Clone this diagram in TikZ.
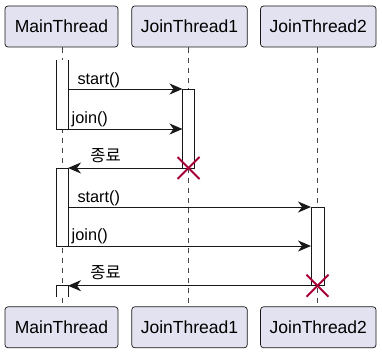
\documentclass[tikz,border=0pt]{standalone}
\usepackage{fontspec}
\setmainfont{Liberation Sans}
\newfontfamily\kr{Noto Sans CJK KR}
\usetikzlibrary{arrows.meta}
\definecolor{boxfill}{HTML}{E2E2F0}
\definecolor{ink}{HTML}{181818}
\definecolor{xred}{HTML}{A80036}
\tikzset{
  part/.style={draw=ink, fill=boxfill, rounded corners=3pt, line width=0.7pt,
    minimum height=41pt, inner sep=0pt, font=\fontsize{17.5}{20}\selectfont},
  life/.style={draw=ink!80, line width=0.6pt, dash pattern=on 5pt off 5pt},
  act/.style={draw=ink, fill=white, line width=1pt},
  msg/.style={draw=ink, line width=1pt, -{Stealth[length=13pt,width=11pt,inset=4pt]}},
  lbl/.style={font=\fontsize{16.3}{18}\selectfont, inner sep=0pt, anchor=base west},
  klbl/.style={font=\kr\fontsize{16.5}{18}\selectfont, inner sep=0pt, anchor=base},
  kill/.style={draw=xred, line width=2pt}
}
\begin{document}
\begin{tikzpicture}[x=1pt,y=-1pt]
\useasboundingbox (0,0) rectangle (382,353);
% participants
\node[part, minimum width=113pt] (mt) at (61.5,26.5) {MainThread};
\node[part, minimum width=115.5pt] (j1t) at (189.5,26.5) {JoinThread1};
\node[part, minimum width=115.5pt] (j2t) at (318.3,26.5) {JoinThread2};
\node[part, minimum width=113pt] (mb) at (61.5,327.3) {MainThread};
\node[part, minimum width=115.5pt] (j1b) at (189.5,327.3) {JoinThread1};
\node[part, minimum width=115.5pt] (j2b) at (318.3,327.3) {JoinThread2};
% lifelines
\coordinate (l0t) at (62,47.5); \coordinate (l0b) at (62,306.8);
\coordinate (l1t) at (188.5,47.5); \coordinate (l1b) at (188.5,306.8);
\coordinate (l2t) at (317.5,47.5); \coordinate (l2b) at (317.5,306.8);
\draw[life] (l0t) -- (l0b);
\draw[life] (l1t) -- (l1b);
\draw[life] (l2t) -- (l2b);
% activations
\fill[white] (56,60) rectangle (68,129);
\draw[act] (56,60) -- (56,129) -- (68,129) -- (68,60);
\draw[act] (182.5,89) rectangle (194.5,168);
\draw[act] (56,168) rectangle (68,246);
\draw[act] (311,207) rectangle (324,285.7);
\fill[white] (56,285.7) rectangle (68,297);
\draw[act] (56,297) -- (56,285.7) -- (68,285.7) -- (68,297);
% message end points
\coordinate (m1a) at (68,89);   \coordinate (m1b) at (182.5,89);
\coordinate (m2a) at (68,129);  \coordinate (m2b) at (182.5,129);
\coordinate (m3a) at (182.5,168); \coordinate (m3b) at (68,168);
\coordinate (m4a) at (68,207);  \coordinate (m4b) at (311,207);
\coordinate (m5a) at (68,246);  \coordinate (m5b) at (311,246);
\coordinate (m6a) at (311,285.7); \coordinate (m6b) at (68,285.7);
\draw[msg] (m1a) -- (m1b);
\draw[msg] (m2a) -- (m2b);
\draw[msg] (m3a) -- (m3b);
\draw[msg] (m4a) -- (m4b);
\draw[msg] (m5a) -- (m5b);
\draw[msg] (m6a) -- (m6b);
% labels
\node[lbl] (t1) at (77.3,84) {start()};
\node[lbl] (t2) at (71.5,123.5) {join()};
\node[klbl] (t3) at (105.5,161) {종료};
\node[lbl] (t4) at (77.3,202) {start()};
\node[lbl] (t5) at (71.5,240.5) {join()};
\node[klbl] (t6) at (105.5,278.5) {종료};
% destruction markers
\coordinate (x1) at (188.5,168);
\coordinate (x2) at (317.5,285.7);
\draw[kill] ([shift={(-11,-11)}]x1) -- ([shift={(11,11)}]x1);
\draw[kill] ([shift={(-11,11)}]x1) -- ([shift={(11,-11)}]x1);
\draw[kill] ([shift={(-11,-11)}]x2) -- ([shift={(11,11)}]x2);
\draw[kill] ([shift={(-11,11)}]x2) -- ([shift={(11,-11)}]x2);
\end{tikzpicture}
\end{document}
